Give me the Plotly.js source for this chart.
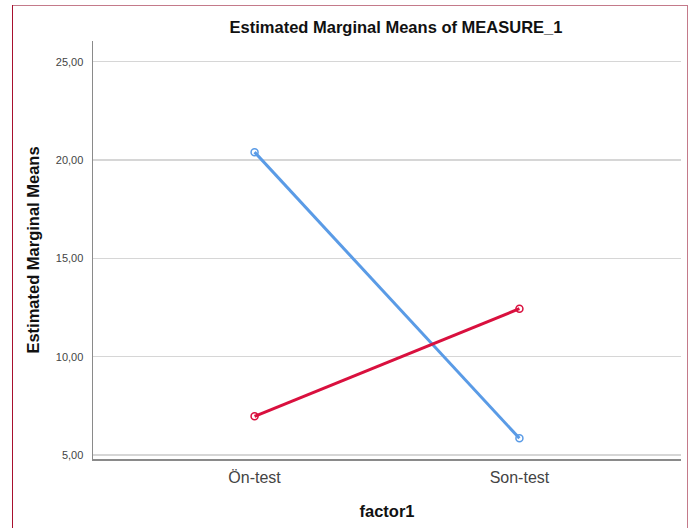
<!DOCTYPE html>
<html>
<head>
<meta charset="utf-8">
<script src="https://cdn.plot.ly/plotly-3.0.1.min.js"></script>
<style>
  html, body { margin: 0; padding: 0; background: #fff; }
  #wrap { position: relative; width: 698px; height: 528px; }
  #chart { width: 698px; height: 528px; }
  .bd { position: absolute; background: #b5344f; }
</style>
</head>
<body>
<div id="wrap">
  <div id="chart"></div>
  <div class="bd" style="left:12px; top:5px; width:676px; height:1px; background:#c47a8a;"></div>
  <div class="bd" style="left:12px; top:5px; width:1px; height:523px; background:#a8102e;"></div>
  <div class="bd" style="left:687px; top:5px; width:1px; height:523px; background:#c47a8a;"></div>
</div>
<script>
const categories = ["Ön-test", "Son-test"];
const seriesBlue = [20.40, 5.85];
const seriesRed = [6.97, 12.44];
const yTicks = [5, 10, 15, 20, 25];

const traces = [
  {
    x: categories, y: seriesBlue, type: "scatter", mode: "lines+markers",
    line: { color: "#5a9be6", width: 3 },
    marker: { symbol: "circle-open", size: 7, color: "#5a9be6", line: { width: 1.5 } },
    showlegend: false, hoverinfo: "skip"
  },
  {
    x: categories, y: seriesRed, type: "scatter", mode: "lines+markers",
    line: { color: "#d9103e", width: 3 },
    marker: { symbol: "circle-open", size: 7, color: "#d9103e", line: { width: 1.5 } },
    showlegend: false, hoverinfo: "skip"
  }
];

const layout = {
  width: 698, height: 528,
  margin: { l: 93, r: 17, t: 41, b: 69, pad: 0 },
  paper_bgcolor: "#ffffff", plot_bgcolor: "#ffffff",
  separators: ",.",
  font: { family: "Arial, 'Liberation Sans', sans-serif", color: "#333" },
  title: {
    text: "<b>Estimated Marginal Means of MEASURE_1</b>",
    font: { size: 16.5, color: "#111" },
    x: 396 / 698, xref: "container", xanchor: "center",
    y: 1 - 27 / 528, yref: "container", yanchor: "middle"
  },
  xaxis: {
    type: "category",
    range: [-0.61, 1.61],
    showgrid: false, zeroline: false,
    showline: true, linecolor: "#8a8a8a", linewidth: 1.5,
    ticks: "", ticklabelstandoff: 3, tickfont: { size: 16, color: "#444" },
    title: { text: "<b>factor1</b>", font: { size: 16.5, color: "#111" }, standoff: 20 },
    fixedrange: true
  },
  yaxis: {
    range: [4.8, 26.05],
    tickvals: yTicks, tickformat: ".2f",
    showgrid: true, gridcolor: "#d6d6d6", gridwidth: 1.5,
    zeroline: false,
    showline: true, linecolor: "#8a8a8a", linewidth: 1.5,
    ticks: "", ticklabelstandoff: 6, tickfont: { size: 11, color: "#444" },
    title: { text: "<b>Estimated Marginal Means</b>", font: { size: 16.5, color: "#111" }, standoff: 12 },
    fixedrange: true
  }
};

Plotly.newPlot("chart", traces, layout, { displayModeBar: false, staticPlot: true });
</script>
</body>
</html>
